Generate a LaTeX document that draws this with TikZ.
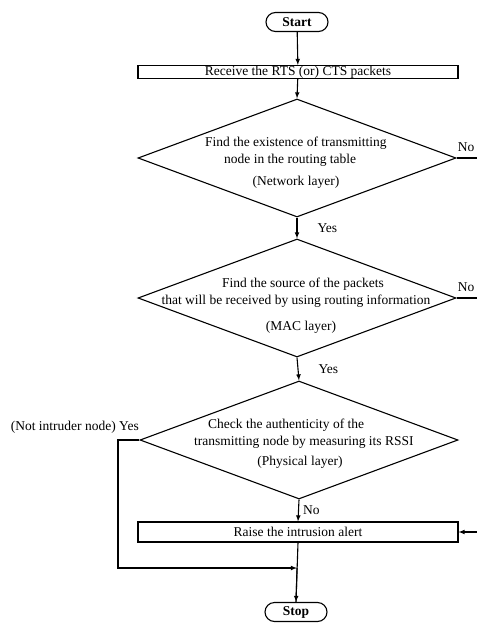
\documentclass[tikz,border=0pt]{standalone}
\usepackage{fontspec}
\setmainfont{Liberation Serif}
\usetikzlibrary{shapes.geometric,shapes.misc,arrows}

\tikzset{
	term/.style={draw,rounded rectangle,line width=1.1pt,minimum width=62pt,minimum height=19pt,inner sep=0pt,font=\fontsize{13.5}{16}\selectfont\bfseries},
	procbox/.style={draw,rectangle,line width=1.1pt,minimum width=320pt,inner sep=0pt},
	decision/.style={draw,diamond,line width=1.1pt,minimum width=318pt,minimum height=118pt,inner sep=0pt},
	lbl/.style={inner sep=0pt,align=center},
	flow/.style={line width=1.1pt}
}

\begin{document}
\begin{tikzpicture}[x=1pt,y=-1pt,>=latex,font=\fontsize{13.5}{17}\selectfont]
				\useasboundingbox (0,0) rectangle (476,623);
				
				\node[term] (start) at (297,22) {Start};
				\node[procbox,minimum height=13pt] (recv) at (298,72) {Receive the RTS (or) CTS packets};
				
				% network layer check
				\node[decision] (net) at (297,158) {};
				\node[lbl,anchor=west,align=left] (nettxt) at (205,152) {Find the existence of transmitting\\\hspace*{19pt}node in the routing table};
				\node[lbl] (netlayer) at (296,182) {(Network layer)};
				
				% MAC layer check
				\node[decision] (mac) at (297,298) {};
				\node[lbl] (mactxt) at (296,293) {\hspace*{14pt}Find the source of the packets\\that will be received by using routing information};
				\node[lbl] (maclayer) at (301,327) {(MAC layer)};
				
				% physical layer check
				\node[decision] (phy) at (299,440) {};
				\node[lbl,anchor=west,align=left] (phytxt) at (194,434) {\hspace*{14pt}Check the authenticity of the\\transmitting node by measuring its RSSI};
				\node[lbl] (phylayer) at (300,462) {(Physical layer)};
				
				\node[procbox,minimum height=20pt] (alert) at (298,532) {Raise the intrusion alert};
				\node[term] (stop) at (296,612) {Stop};
				
				\coordinate (rightrail) at (478,532);
				\coordinate (join) at (297,568);
				\coordinate (bypass) at (118,568);
				
				\draw[flow,->] (start) -- (recv);
				\draw[flow,->] (recv) -- (net.north);
				\draw[flow,->] (net.south) -- (mac.north) node[lbl,pos=0.5,right=20pt] (yes1) {Yes};
				\draw[flow,->] (mac.south) -- (phy.north) node[lbl,pos=0.5,right=20pt] (yes2) {Yes};
				\draw[flow,->] (phy.south) -- (alert.north) node[lbl,pos=0.5,right=4pt] (no3) {No};
				\draw[flow] (alert.south) -- (stop.north);
				\draw[flow,->] (join) -- (stop.north);
				
				% No branches on the right
				\draw[flow] (net.east) -| (rightrail);
				\draw[flow] (mac.east) -- (mac.east -| rightrail);
				\draw[flow,->] (rightrail) -- (alert.east);
				\node[lbl] (no1) at (466,147) {No};
				\node[lbl] (no2) at (466,287) {No};
				
				% Yes branch on the left
				\draw[flow,->] (phy.west) -| (bypass) -- (join);
				\node[lbl,anchor=east] (notintr) at (139,427) {(Not intruder node) Yes};
				
\end{tikzpicture}
\end{document}
